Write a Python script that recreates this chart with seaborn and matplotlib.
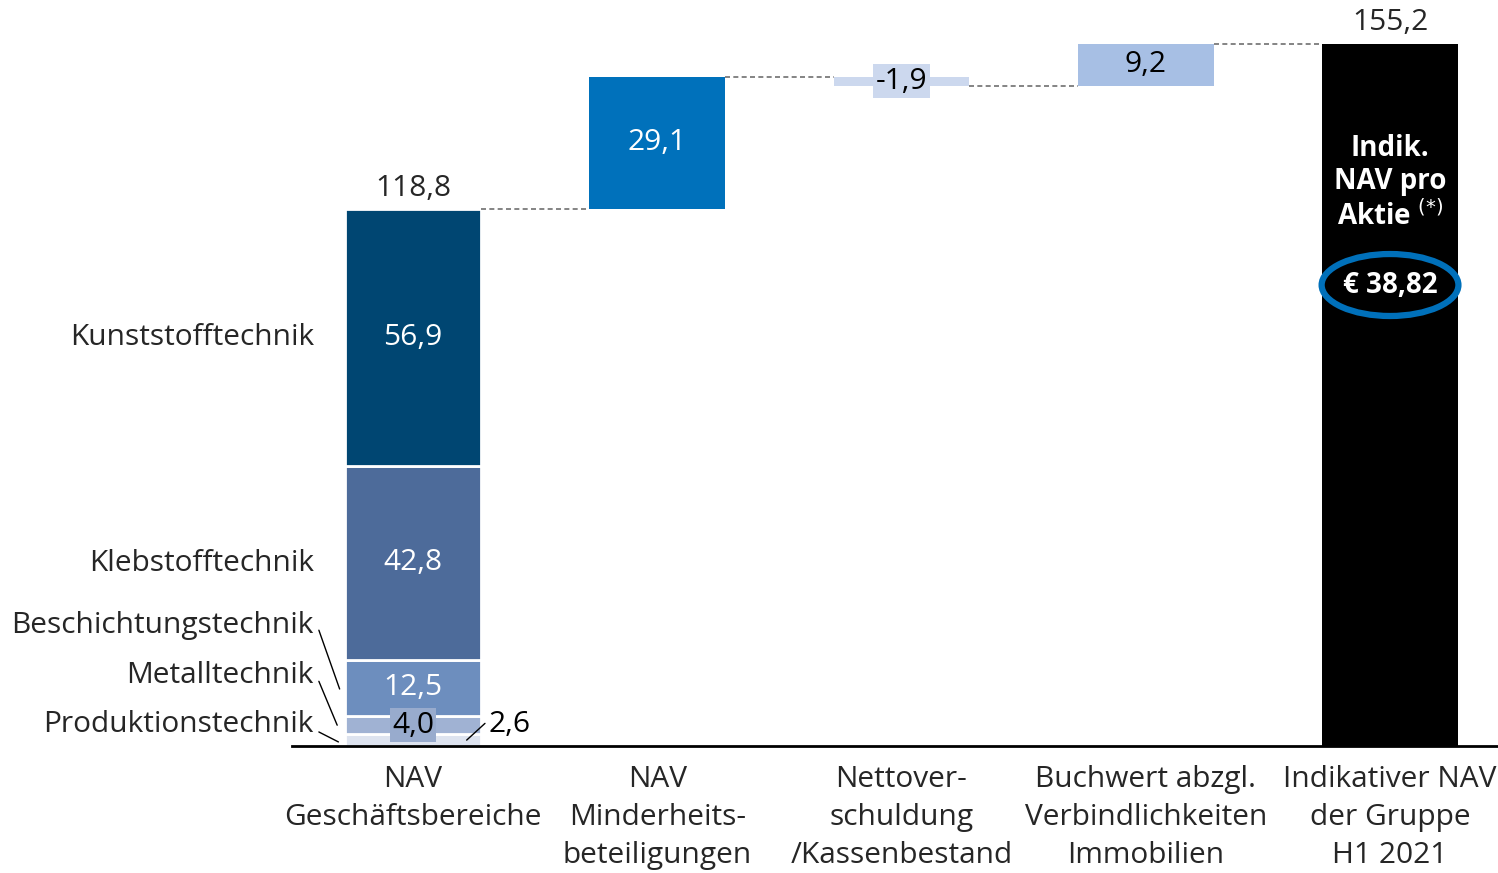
import matplotlib
matplotlib.use("Agg")
import matplotlib.pyplot as plt
from matplotlib.patches import Ellipse
import seaborn as sns

# data
categories = [
    "NAV\nGeschäftsbereiche",
    "NAV\nMinderheits-\nbeteiligungen",
    "Nettover-\nschuldung\n/Kassenbestand",
    "Buchwert abzgl.\nVerbindlichkeiten\nImmobilien",
    "Indikativer NAV\nder Gruppe\nH1 2021",
]
segment_names = ["Produktionstechnik", "Metalltechnik", "Beschichtungstechnik",
                 "Klebstofftechnik", "Kunststofftechnik"]
segment_values = [2.6, 4.0, 12.5, 42.8, 56.9]
segment_colors = ["#DDE3EF", "#A0B2D3", "#6D8EBE", "#4D6B9A", "#004672"]
bridge_values = [29.1, -1.9, 9.2]
bridge_colors = ["#0071BB", "#CCD8EE", "#A7BFE4"]
total_value = 155.2
nav_per_share = "€ 38,82"


def fmt(v):
    return f"{v:.1f}".replace(".", ",")


sns.set_theme(style="white")
plt.rcParams["font.family"] = ["Open Sans", "DejaVu Sans"]

fig = plt.figure(figsize=(14.98, 8.73), dpi=100)
ax = fig.add_axes([292 / 1498, 127 / 873, 1206 / 1498, 746 / 873])
W = 0.555
FS = 21.5

# stacked first bar
bottom = 0
for name, val, col in zip(segment_names, segment_values, segment_colors):
    sns.barplot(x=[categories[0]], y=[val], order=categories, color=col, saturation=1,
                width=W, bottom=bottom, edgecolor="white", linewidth=2,
                errorbar=None, ax=ax)
    bottom += val
subtotal = bottom

# bridge bars
level = subtotal
levels = [subtotal]
for i, (val, col) in enumerate(zip(bridge_values, bridge_colors)):
    b = level if val > 0 else level + val
    sns.barplot(x=[categories[i + 1]], y=[abs(val)], order=categories, color=col,
                saturation=1, width=W, bottom=b, linewidth=0, errorbar=None, ax=ax)
    level += val
    levels.append(level)

# total bar
sns.barplot(x=[categories[4]], y=[total_value], order=categories, color="black",
            saturation=1, width=W, linewidth=0, errorbar=None, ax=ax)

# connectors
for i, lv in enumerate(levels):
    ax.plot([i + W / 2, i + 1 - W / 2], [lv, lv], ls=(0, (3, 2)), lw=1.2,
            color="#6f6f6f", zorder=1)

# segment labels
cum = 0
seg_mid = []
for val in segment_values:
    seg_mid.append(cum + val / 2)
    cum += val
ax.text(0, seg_mid[4], fmt(segment_values[4]), color="white", fontsize=FS,
        ha="center", va="center")
ax.text(0, seg_mid[3], fmt(segment_values[3]), color="white", fontsize=FS,
        ha="center", va="center")
ax.text(0, seg_mid[2], fmt(segment_values[2]), color="white", fontsize=FS,
        ha="center", va="center")
ax.text(0, seg_mid[1], fmt(segment_values[1]), color="black", fontsize=FS,
        ha="center", va="center",
        bbox=dict(boxstyle="square,pad=0.08", fc="#98ABCD", ec="none"))
ax.text(0.31, 4.8, fmt(segment_values[0]), color="black", fontsize=FS,
        ha="left", va="center")
ax.plot([0.22, 0.295], [1.3, 5.0], color="black", lw=1)
ax.text(0, subtotal + 1.2, fmt(subtotal), fontsize=FS, ha="center", va="bottom")

# left segment names
name_pos = [(-0.405, 4.8), (-0.405, 15.5), (-0.405, 26.6), (-0.405, 40.3), (-0.405, 90.3)]
for name, (x, y) in zip(segment_names, name_pos):
    ax.text(x, y, name, fontsize=FS, ha="right", va="center", clip_on=False)
ax.plot([-0.385, -0.30], [25.6, 12.6], color="black", lw=1, clip_on=False)
ax.plot([-0.385, -0.31], [14.3, 4.6], color="black", lw=1, clip_on=False)
ax.plot([-0.385, -0.305], [3.1, 0.9], color="black", lw=1, clip_on=False)

# bridge labels
ax.text(1, subtotal + bridge_values[0] / 2, fmt(bridge_values[0]), color="white",
        fontsize=FS, ha="center", va="center")
ax.text(2, levels[1] + bridge_values[1] / 2, fmt(bridge_values[1]), color="black",
        fontsize=FS, ha="center", va="center",
        bbox=dict(boxstyle="square,pad=0.08", fc="#CCD8EE", ec="none"))
ax.text(3, levels[2] + bridge_values[2] / 2, fmt(bridge_values[2]), color="black",
        fontsize=FS, ha="center", va="center")
ax.text(4, total_value + 1.5, fmt(total_value), fontsize=FS, ha="center", va="bottom")

# total bar annotation
ax.text(4, 124.5, "Indik.\nNAV pro\nAktie $^{(*)}$", color="white", fontsize=20,
        fontweight="bold", ha="center", va="center", linespacing=1.2)
ax.text(4, 101.9, nav_per_share, color="white", fontsize=20, fontweight="bold",
        ha="center", va="center")
ax.add_patch(Ellipse((4, 101.9), 0.56, 13.7, fill=False, ec="#0070BA", lw=4.5,
                     zorder=5))

ax.set_xlim(-0.495, 4.442)
ax.set_ylim(0, 164.9)
ax.set_xticks(range(len(categories)))
ax.set_xticklabels(categories, fontsize=FS, linespacing=1.41)
ax.tick_params(axis="x", length=0, pad=14)
ax.set_yticks([])
ax.set_xlabel("")
ax.set_ylabel("")
for s in ["left", "right", "top"]:
    ax.spines[s].set_visible(False)
ax.spines["bottom"].set_color("black")
ax.spines["bottom"].set_linewidth(2)

fig.savefig("out.png", dpi=100)
